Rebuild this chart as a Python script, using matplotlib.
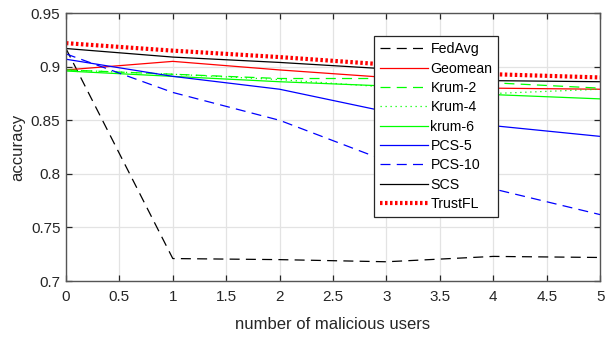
import matplotlib
matplotlib.use('Agg')
import matplotlib.pyplot as plt

plt.rcParams['font.family'] = ['Liberation Sans', 'DejaVu Sans']

# 数据
users = [0, 1, 2, 3, 4, 5]
fedavg = [0.917, 0.721, 0.720, 0.718, 0.723, 0.722]
geomean = [0.897, 0.905, 0.897, 0.890, 0.880, 0.879]
krum2 = [0.897, 0.893, 0.889, 0.889, 0.885, 0.880]
krum4 = [0.897, 0.893, 0.888, 0.881, 0.875, 0.879]
krum6 = [0.896, 0.891, 0.886, 0.882, 0.874, 0.870]
pcs5 = [0.907, 0.891, 0.879, 0.858, 0.845, 0.835]
pcs10 = [0.912, 0.876, 0.850, 0.812, 0.786, 0.762]
scs = [0.917, 0.909, 0.904, 0.898, 0.887, 0.886]
trustfl = [0.922, 0.915, 0.909, 0.902, 0.893, 0.890]

fig = plt.figure(figsize=(6.05, 3.37), dpi=100)
ax = fig.add_axes([0.109, 0.166, 0.883, 0.795])

ax.plot(users, fedavg, color='k', lw=0.9, dashes=(8, 5), label='FedAvg')
ax.plot(users, geomean, color='r', lw=0.9, label='Geomean')
ax.plot(users, krum2, color='#00ff00', lw=0.9, dashes=(8, 5), label='Krum-2')
ax.plot(users, krum4, color='#00ff00', lw=0.9, dashes=(1, 3), label='Krum-4')
ax.plot(users, krum6, color='#00ff00', lw=0.9, label='krum-6')
ax.plot(users, pcs5, color='b', lw=0.9, label='PCS-5')
ax.plot(users, pcs10, color='b', lw=0.9, dashes=(8, 5), label='PCS-10')
ax.plot(users, scs, color='k', lw=0.9, label='SCS')
ax.plot(users, trustfl, color='r', lw=3, dashes=(0.6, 0.6), label='TrustFL')

ax.set_xlim(0, 5)
ax.set_ylim(0.7, 0.95)
ax.set_xticks([0, 0.5, 1, 1.5, 2, 2.5, 3, 3.5, 4, 4.5, 5])
ax.set_xticklabels(['0', '0.5', '1', '1.5', '2', '2.5', '3', '3.5', '4', '4.5', '5'])
ax.set_yticks([0.7, 0.75, 0.8, 0.85, 0.9, 0.95])
ax.set_yticklabels(['0.7', '0.75', '0.8', '0.85', '0.9', '0.95'])
ax.grid(True, color='#e3e3e3', lw=0.9)
ax.set_axisbelow(True)
ax.tick_params(direction='in', top=True, right=True, length=4, width=0.9,
               colors='#262626', labelsize=11)
ax.tick_params(axis='x', pad=6.5)
ax.tick_params(axis='y', pad=4)
for s in ax.spines.values():
    s.set_color('#555555')
    s.set_linewidth(1.0)

ax.set_xlabel('number of malicious users', fontsize=12, color='#262626', labelpad=9)
ax.set_ylabel('accuracy', fontsize=12, color='#262626', labelpad=4)

leg = ax.legend(loc='upper left', bbox_to_anchor=(0.577, 0.914), borderaxespad=0,
                fancybox=False, edgecolor='#262626', framealpha=1, fontsize=10.2,
                handlelength=3.4, handletextpad=0.15, labelspacing=0.38,
                borderpad=0.42)
leg.get_frame().set_linewidth(0.9)

fig.savefig('out.png', dpi=100)
